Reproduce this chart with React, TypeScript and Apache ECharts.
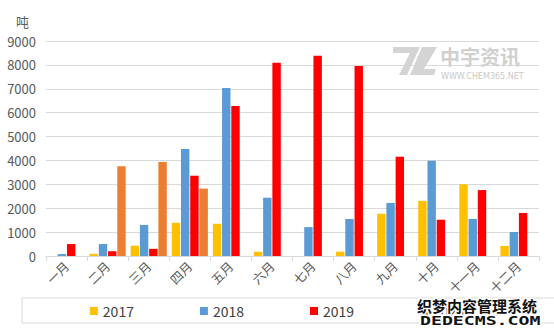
import React, { useEffect, useRef } from "react";
import * as echarts from "echarts";

const categories = ["一月", "二月", "三月", "四月", "五月", "六月", "七月", "八月", "九月", "十月", "十一月", "十二月"];
const s2017 = [0, 90, 430, 1390, 1350, 180, 0, 180, 1770, 2310, 3000, 420];
const s2018 = [80, 500, 1300, 4480, 7030, 2440, 1210, 1550, 2220, 3990, 1550, 1000];
const s2019 = [500, 200, 300, 3360, 6280, 8090, 8380, 7950, 4150, 1520, 2760, 1800];
const s2020 = [0, 3760, 3940, 2820, null, null, null, null, null, null, null, null];
const seriesNames = ["2017", "2018", "2019", "2020"];
const yTicks = { min: 0, max: 9000, interval: 1000 };

export default function App() {
  const ref = useRef<HTMLDivElement>(null);
  useEffect(() => {
    if (!ref.current) return;
    const chart = echarts.init(ref.current, undefined, { renderer: "svg" });
    const font = "'Noto Sans CJK SC', 'Noto Sans', sans-serif";
    const colors = ["#FFC000", "#5B9BD5", "#FF0000", "#ED7D31"];
    const datas = [s2017, s2018, s2019, s2020];
    chart.setOption({
      animation: false,
      textStyle: { fontFamily: font },
      color: colors,
      grid: { left: 46, right: 15, top: 41, bottom: 76 },
      legend: {
        left: "center",
        top: 299,
        itemWidth: 8,
        itemHeight: 8,
        itemGap: 66,
        icon: "rect",
        textStyle: { fontSize: 14, color: "#404040", fontFamily: font },
        data: seriesNames,
      },
      xAxis: {
        type: "category",
        data: categories,
        axisLine: { lineStyle: { color: "#d9d9d9" } },
        axisTick: { show: true, length: 5, lineStyle: { color: "#d9d9d9" } },
        axisLabel: { rotate: 45, color: "#595959", fontSize: 12.5, margin: 8, interval: 0 },
      },
      yAxis: {
        type: "value",
        min: yTicks.min,
        max: yTicks.max,
        interval: yTicks.interval,
        axisLine: { show: false },
        axisTick: { show: false },
        splitLine: { lineStyle: { color: "#d9d9d9" } },
        axisLabel: { color: "#595959", fontSize: 13, margin: 10, formatter: (v: number) => String(v) },
      },
      series: seriesNames.map((n, i) => ({
        name: n,
        type: "bar",
        data: datas[i],
        barGap: "10%",
        barCategoryGap: "12%",
        itemStyle: { color: colors[i] },
      })),
      graphic: [
        {
          type: "text",
          left: 16,
          top: 15,
          style: { text: "吨", fontSize: 13, fill: "#595959", fontFamily: font },
        },
        {
          type: "rect",
          shape: { x: 22, y: 298, width: 540, height: 25 },
          style: { fill: "none", stroke: "#d9d9d9", lineWidth: 1 },
          z: -1,
        },
        {
          type: "polygon",
          shape: { points: [[393, 47], [420, 47], [407, 75], [399, 75], [410, 53], [393, 53]] },
          style: { fill: "#d4d4d4" },
          z: 10,
        },
        {
          type: "polygon",
          shape: { points: [[422, 47], [437, 47], [424, 69], [436, 69], [434, 75], [410, 75]] },
          style: { fill: "#d4d4d4" },
          z: 10,
        },
        {
          type: "text",
          x: 440,
          y: 46,
          style: { text: "中宇资讯", fontSize: 20, lineHeight: 20, fontWeight: "bold", fill: "#d0d0d0", fontFamily: font },
          z: 10,
        },
        {
          type: "text",
          x: 441,
          y: 72,
          style: { text: "WWW.CHEM365.NET", fontSize: 8, lineHeight: 8, fill: "#c8c8c8", fontFamily: "'DejaVu Sans', sans-serif" },
          z: 10,
        },
        {
          type: "text",
          x: 417,
          y: 297,
          style: {
            text: "织梦内容管理系统",
            fontSize: 15,
            lineHeight: 16,
            fontWeight: "bold",
            fill: "#111",
            stroke: "#fff",
            lineWidth: 3,
            fontFamily: font,
          },
          z: 20,
        },
        {
          type: "text",
          x: 420,
          y: 314,
          scaleX: 1.4,
          style: {
            text: "DEDECMS.COM",
            fontSize: 13,
            lineHeight: 13,
            fontWeight: "bold",
            fill: "#111",
            stroke: "#fff",
            lineWidth: 3,
            fontFamily: "'DejaVu Sans Mono', monospace",
          },
          z: 20,
        },
      ],
    });
    return () => chart.dispose();
  }, []);
  return (
    <div
      ref={ref}
      style={{ position: "fixed", left: 0, top: 0, width: 554, height: 332, background: "#fff" }}
    />
  );
}
